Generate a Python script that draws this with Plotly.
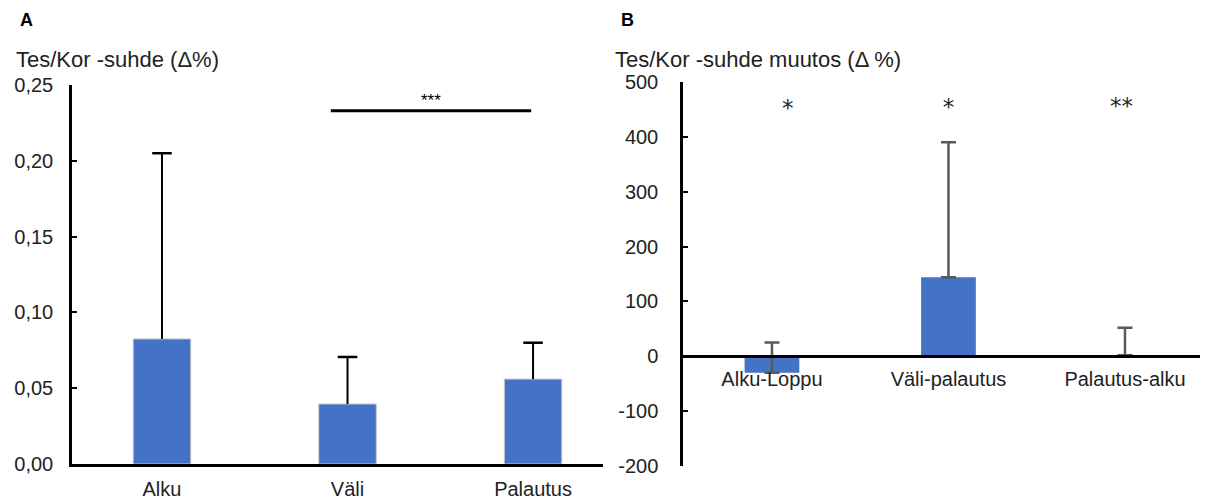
import plotly.graph_objects as go

# ---- data ----
cats_a = ["Alku", "Väli", "Palautus"]
vals_a = [0.0825, 0.0396, 0.056]
err_a = [0.1225, 0.031, 0.024]
sig_a_text = "***"
sig_a_y = 0.233
sig_a_x = [0.91, 1.99]

cats_b = ["Alku-Loppu", "Väli-palautus", "Palautus-alku"]
vals_b = [-30, 144, 2]
err_b = [55, 246, 50]
stars_b = ["*", "*", "**"]
stars_b_x = [0.09, 1.0, 1.98]
stars_b_y = [448, 450, 453]

yticks_a = [0, 0.05, 0.10, 0.15, 0.20, 0.25]
yticklabels_a = ["0,00", "0,05", "0,10", "0,15", "0,20", "0,25"]
yticks_b = [-200, -100, 0, 100, 200, 300, 400, 500]
yticklabels_b = ["-200", "-100", "0", "100", "200", "300", "400", "500"]

W, H = 1216, 501
FONT = "Liberation Sans, Arial, sans-serif"
BLUE = "#4472C4"
TXT = "#222222"

xa_dom = [72 / W, 603 / W]
xb_dom = [683 / W, 1200 / W]
ya_dom = [(H - 464) / H, (H - 85) / H]
yb_dom = [(H - 466) / H, (H - 82) / H]
yb_range = [-200, 500]
zero_pos_b = yb_dom[0] + (0 - yb_range[0]) / (yb_range[1] - yb_range[0]) * (yb_dom[1] - yb_dom[0])

fig = go.Figure()

fig.add_trace(go.Bar(
    x=list(range(len(cats_a))), y=vals_a, width=0.31,
    marker=dict(color=BLUE, line=dict(color="#c8c8c8", width=1)),
    xaxis="x", yaxis="y", showlegend=False,
))

# panel A error whiskers (upper only, no cap at the bar top)
ex, ey = [], []
for i, (v, e) in enumerate(zip(vals_a, err_a)):
    ex += [i, i, None]
    ey += [v, v + e, None]
fig.add_trace(go.Scatter(
    x=ex, y=ey, mode="lines", line=dict(color="black", width=2),
    xaxis="x", yaxis="y", showlegend=False, hoverinfo="skip",
))
fig.add_trace(go.Scatter(
    x=list(range(len(cats_a))), y=[v + e for v, e in zip(vals_a, err_a)], mode="markers",
    marker=dict(symbol="line-ew", size=14, line=dict(color="black", width=2.5)),
    xaxis="x", yaxis="y", showlegend=False, hoverinfo="skip",
))

fig.add_trace(go.Bar(
    x=list(range(len(cats_b))), y=vals_b, width=0.31,
    marker=dict(color=BLUE, line=dict(width=0)),
    error_y=dict(type="data", array=err_b, arrayminus=[0] * len(err_b), symmetric=False,
                 color="#595959", thickness=2.5, width=7.5),
    xaxis="x2", yaxis="y2", showlegend=False,
))

fig.add_trace(go.Scatter(
    x=stars_b_x, y=stars_b_y, mode="text", text=stars_b,
    textfont=dict(family="DejaVu Sans, sans-serif", size=23, color="#262626"),
    xaxis="x2", yaxis="y2", showlegend=False, hoverinfo="skip",
))

axis_common = dict(showgrid=False, zeroline=False, showline=True, linecolor="black",
                   linewidth=2.5, automargin=False,
                   tickfont=dict(family=FONT, size=20, color=TXT))

fig.update_layout(
    width=W, height=H,
    margin=dict(l=0, r=0, t=0, b=0),
    paper_bgcolor="white", plot_bgcolor="white",
    xaxis=dict(domain=xa_dom, range=[-0.485, 2.377], anchor="y",
               tickvals=list(range(len(cats_a))), ticktext=cats_a, ticks="",
               ticklabelstandoff=5, **axis_common),
    yaxis=dict(domain=ya_dom, range=[0, 0.25], anchor="x",
               tickvals=yticks_a, ticktext=yticklabels_a,
               ticks="inside", ticklen=5, tickwidth=2, tickcolor="black",
               ticklabelstandoff=12, **axis_common),
    xaxis2=dict(domain=xb_dom, range=[-0.504, 2.425], anchor="free", position=zero_pos_b,
                tickvals=list(range(len(cats_b))), ticktext=cats_b, ticks="",
                ticklabelstandoff=4, **axis_common),
    yaxis2=dict(domain=yb_dom, range=yb_range, anchor="x2",
                tickvals=yticks_b, ticktext=yticklabels_b,
                ticks="inside", ticklen=5, tickwidth=2, tickcolor="black",
                ticklabelstandoff=18, **axis_common),
    shapes=[dict(type="line", xref="x", yref="y", x0=sig_a_x[0], x1=sig_a_x[1],
                 y0=sig_a_y, y1=sig_a_y, line=dict(color="black", width=3))],
    annotations=[
        dict(text="<b>A</b>", x=26 / W, y=(H - 20) / H, xref="paper", yref="paper",
             xanchor="center", yanchor="middle", showarrow=False,
             font=dict(family=FONT, size=18, color="black")),
        dict(text="<b>B</b>", x=627 / W, y=(H - 20) / H, xref="paper", yref="paper",
             xanchor="center", yanchor="middle", showarrow=False,
             font=dict(family=FONT, size=18, color="black")),
        dict(text="Tes/Kor -suhde (Δ%)", x=14 / W, y=(H - 60) / H, xref="paper", yref="paper",
             xanchor="left", yanchor="middle", showarrow=False,
             font=dict(family=FONT, size=22, color=TXT)),
        dict(text="Tes/Kor -suhde muutos (Δ %)", x=613 / W, y=(H - 60) / H, xref="paper", yref="paper",
             xanchor="left", yanchor="middle", showarrow=False,
             font=dict(family=FONT, size=22, color=TXT)),
        dict(text=sig_a_text, x=(sig_a_x[0] + sig_a_x[1]) / 2, y=sig_a_y, xref="x", yref="y",
             xanchor="center", yanchor="bottom", yshift=-1, showarrow=False,
             font=dict(family=FONT, size=17, color="black")),
    ],
)

fig.write_html("out.html")
